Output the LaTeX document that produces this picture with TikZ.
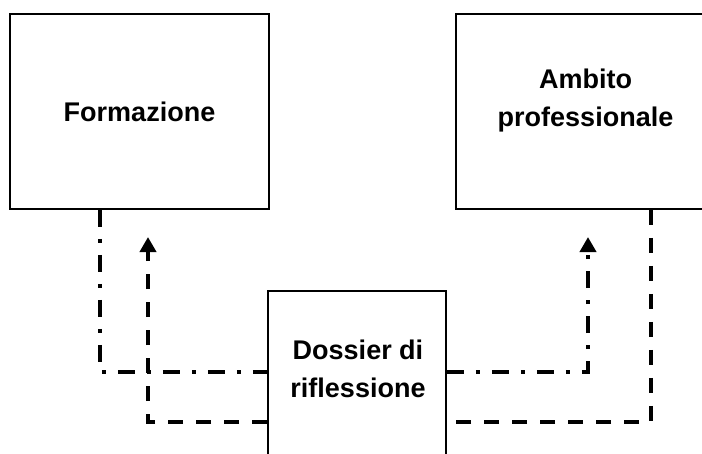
\documentclass[tikz,border=0pt]{standalone}
\usepackage{fontspec}
\setmainfont{Liberation Sans}
\usetikzlibrary{arrows.meta}

\begin{document}
\begin{tikzpicture}[x = 1pt, y = -1pt,
                    box/.style = {shape = rectangle,
                                  color = black,
                                  line width = 1.6pt,
                                  inner sep = 0pt,
                                  draw},
                    boxtext/.style = {align = center,
                                      font = \fontsize{27}{38}\selectfont\bfseries},
                    dashline/.style = {line width = 3.8pt,
                                       dash pattern = on 15pt off 13pt},
                    dotline/.style = {line width = 3.8pt,
                                      dash pattern = on 17pt off 12pt on 4pt off 12pt},
                    arrowtip/.style = {-{Triangle[width = 16pt, length = 15pt]}}]
		\clip (0,0) rectangle (702,453);
		\node[box, minimum width = 259pt, minimum height = 195pt] (formazione) at (139.5,111.5) {};
		\node[box, minimum width = 259pt, minimum height = 195pt] (ambito) at (585.5,111.5) {};
		\node[box, minimum width = 178pt, minimum height = 200pt] (dossier) at (357,391) {};
		\node[boxtext] (formazionetext) at (formazione.center) {Formazione};
		\node[boxtext] (ambitotext) at (585.5,101) {Ambito\\professionale};
		\node[boxtext] (dossiertext) at (358,369) {Dossier di\\riflessione};
		\coordinate (formazionein) at (148,237);
		\coordinate (ambitoin) at (588,237);
		\draw[dotline] ([xshift = -39.5pt]formazione.south) |- ([yshift = 19pt]dossier.west);
		\draw[dashline, arrowtip] ([yshift = -31pt]dossier.west) -| (formazionein);
		\draw[dotline, arrowtip] ([yshift = 19pt]dossier.east) -| (ambitoin);
		\draw[dashline] ([xshift = 65.5pt]ambito.south) |- ([yshift = -31pt]dossier.east);
	\end{tikzpicture}
\end{document}
